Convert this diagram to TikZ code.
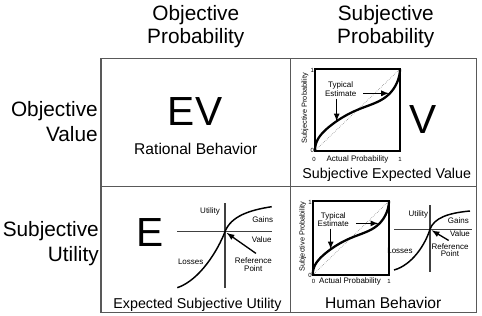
\documentclass[tikz,border=0pt]{standalone}
\usepackage{fontspec}
\setmainfont{Liberation Sans}

\tikzset{
  frame/.style={line width=1pt, black!65},
  colhead/.style={inner sep=0pt, align=center, font=\fontsize{15.6}{17}\selectfont},
  rowhead/.style={inner sep=0pt, align=right, anchor=east, font=\fontsize{15.6}{18.75}\selectfont},
  bigletter/.style={inner sep=0pt, anchor=base, font=\fontsize{30.5}{32}\selectfont},
  caption/.style={inner sep=0pt, anchor=base, font=\fontsize{11.7}{13}\selectfont},
  longcap/.style={caption, font=\fontsize{10.7}{12}\selectfont},
  tag/.style={inner sep=0pt, anchor=base, font=\fontsize{6}{7}\selectfont},
  tick/.style={inner sep=0pt, font=\fontsize{4.5}{5}\selectfont},
  probbox/.style={line width=1.2pt},
  probcurve/.style={line width=1.7pt, line join=round},
  diagonal/.style={densely dotted, line width=0.4pt, black!60},
  uaxis/.style={line width=0.9pt, black!75},
  ucurve/.style={line width=1.1pt},
  pointer/.style={->, line width=1pt},
}

\begin{document}
\begin{tikzpicture}[x=0.75pt, y=-0.75pt, >=latex]
    \useasboundingbox (0,0) rectangle (482,315);
    % table
    \draw[frame] (101,58.5) rectangle (476.7,312.5);
    \draw[frame] (290.7,58.5) -- (290.7,312.5);
    \draw[frame] (101,186.7) -- (476.7,186.7);
    \node[colhead] (hobjp) at (195.8,26.6) {Objective\\Probability};
    \node[colhead] (hsubp) at (385.8,26.6) {Subjective\\Probability};
    \node[rowhead] (hobjv) at (98,121.9) {Objective\\Value};
    \node[rowhead] (hsubu) at (99,243.8) {Subjective\\Utility};

    % objective value, objective probability
    \node[bigletter] (ev) at (195,125) {EV};
    \node[caption] (rational) at (195.8,154) {Rational Behavior};

    % objective value, subjective probability
    \begin{scope}[shift={(315,150.7)}, x=63.75pt, y=61.3pt]
      \draw[diagonal] (0,0) -- (1,1);
      \draw[probcurve] plot[domain=-90:90, samples=61, smooth, variable=\t]
        ({0.5+0.5*sin(\t)}, {0.5+\t/180-0.05*sin(2*\t)-0.025*pow(sin(2*\t),2)});
      \draw[probbox] (0,0) rectangle (1,1);
      \coordinate (tipa1) at (0.255,0.36);
      \coordinate (tipb1) at (0.87,0.7);
      \node[tick, anchor=east] (ya1) at (-0.01,0) {0};
      \node[tick, anchor=east] (yb1) at (-0.01,0.985) {1};
      \node[tick, anchor=base] (xa1) at (-0.01,-0.137) {0};
      \node[tick, anchor=base] (xb1) at (1,-0.137) {1};
      \node[tag] (actual1) at (0.5,-0.137) {Actual Probability};
      \node[tag, anchor=center, rotate=90, font=\fontsize{5.5}{6}\selectfont] (subj1) at (-0.118,0.52) {Subjective Probability};
      \node[tag] (typ1) at (0.302,0.769) {Typical};
      \node[tag] (est1) at (0.302,0.667) {Estimate};
    \end{scope}
    \draw[pointer, shorten <=5pt] (est1.east) -- (est1.east -| tipb1);
    \draw[pointer, shorten <=1.5pt] (est1.south -| tipa1) -- (tipa1);
    \node[bigletter] (v) at (423.3,133.3) {V};
    \node[longcap] (sev) at (386.7,178.3) {Subjective Expected Value};

    % subjective utility, objective probability
    \node[bigletter] (e) at (150,246.7) {E};
    \coordinate (o1) at (225,231.7);
    \draw[uaxis] (225,203.3) -- (225,288.3);
    \draw[uaxis] (177.3,231.7) -- (271.7,231.7);
    \draw[ucurve] (177.3,287.7) .. controls (200,280) and (218,250) .. (o1)
      .. controls (231,216) and (250,210) .. (271.7,206.7);
    \node[tag] (util1) at (210,213.6) {Utility};
    \node[tag] (gains1) at (262.7,222.9) {Gains};
    \node[tag] (value1) at (261.7,242.9) {Value};
    \node[tag] (losses1) at (190.7,264.6) {Losses};
    \node[tag, align=center, font=\fontsize{6}{5.8}\selectfont] (ref1) at (253.3,271.2) {Reference\\Point};
    \draw[pointer, shorten >=1.5pt] ([xshift=2pt, yshift=3pt]ref1.north) -- (o1);
    \node[longcap] (esu) at (197.5,308.3) {Expected Subjective Utility};

    % subjective utility, subjective probability
    \begin{scope}[shift={(312.7,275)}, x=57.2pt, y=55.5pt]
      \draw[diagonal] (0,0) -- (1,1);
      \draw[probcurve] plot[domain=-90:90, samples=61, smooth, variable=\t]
        ({0.5+0.5*sin(\t)}, {0.5+\t/180-0.05*sin(2*\t)-0.025*pow(sin(2*\t),2)});
      \draw[probbox] (0,0) rectangle (1,1);
      \coordinate (tipa2) at (0.236,0.348);
      \coordinate (tipb2) at (0.86,0.7);
      \node[tick, anchor=east] (ya2) at (-0.01,0) {0};
      \node[tick, anchor=east] (yb2) at (-0.01,0.985) {1};
      \node[tick, anchor=base] (xa2) at (0.01,-0.116) {0};
      \node[tick, anchor=base] (xb2) at (1,-0.116) {1};
      \node[tag] (actual2) at (0.49,-0.116) {Actual Probability};
      \node[tag, anchor=center, rotate=90, font=\fontsize{5.5}{6}\selectfont] (subj2) at (-0.13,0.518) {Subjective Probability};
      \node[tag] (typ2) at (0.27,0.762) {Typical};
      \node[tag] (est2) at (0.27,0.659) {Estimate};
    \end{scope}
    \draw[pointer, shorten <=5pt] (est2.east) -- (est2.east -| tipb2);
    \draw[pointer, shorten <=1.5pt] (est2.south -| tipa2) -- (tipa2);
    \coordinate (o2) at (430,229.3);
    \draw[uaxis] (430,205) -- (430,271.7);
    \draw[uaxis] (394,229.3) -- (471.7,229.3);
    \draw[ucurve] (394,270) .. controls (412,265) and (425,245) .. (o2)
      .. controls (434,218) and (448,213) .. (470,211);
    \node[tag] (util2) at (418.3,216.9) {Utility};
    \node[tag] (gains2) at (458.3,223.6) {Gains};
    \node[tag] (value2) at (460,236.9) {Value};
    \node[tag] (losses2) at (400,253.9) {Losses};
    \node[tag, align=center, font=\fontsize{6}{5.8}\selectfont] (ref2) at (450,256.9) {Reference\\Point};
    \draw[pointer, shorten >=1.5pt] ([xshift=-1pt, yshift=2pt]ref2.north) -- (o2);
    \node[caption] (human) at (383.3,308.3) {Human Behavior};
  \end{tikzpicture}
\end{document}
